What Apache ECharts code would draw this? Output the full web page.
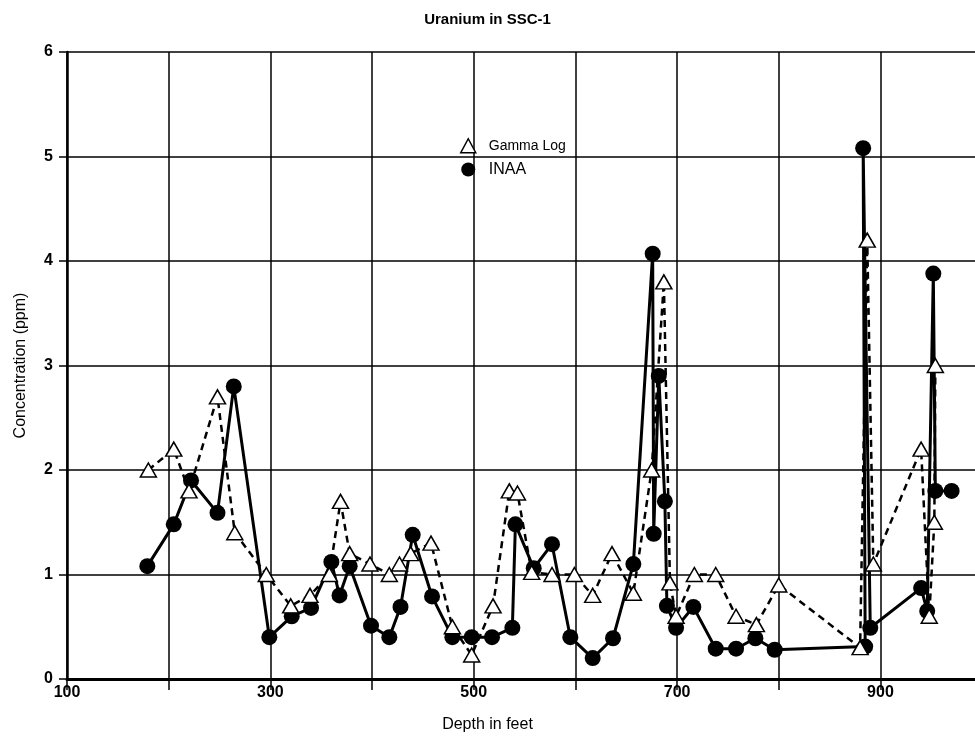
<!DOCTYPE html>
<html>
<head>
<meta charset="utf-8">
<script src="https://cdn.jsdelivr.net/npm/echarts@6/dist/echarts.min.js"></script>
<style>html,body{margin:0;padding:0;background:#fff}#c{width:975px;height:742px}</style>
</head>
<body>
<div id="c"></div>
<script>
// Gamma Log (open triangles, dashed line)
const gammaDepth = [180,205,220,248,265,296,320,339,358,369,378,398,417,427,438,458,479,498,519,535,543,557,577,599,617,636,657,675,687,693,699,717,738,758,778,800,880,887,893,940,948,953,954];
const gammaU     = [2.0,2.2,1.8,2.7,1.4,1.0,0.7,0.8,1.0,1.7,1.2,1.1,1.0,1.1,1.2,1.3,0.5,0.23,0.7,1.8,1.78,1.02,1.0,1.0,0.8,1.2,0.82,2.0,3.8,0.92,0.6,1.0,1.0,0.6,0.52,0.9,0.3,4.2,1.1,2.2,0.6,1.5,3.0];
// INAA (filled circles, solid line)
const inaaDepth = [179,205,222,248,264,299,321,340,360,368,378,399,417,428,440,459,479,498,518,538,541,559,577,595,617,637,657,676,677,682,688,690,699,716,738,758,777,796,885,883,890,940,946,952,954,970];
const inaaU     = [1.08,1.48,1.90,1.59,2.80,0.40,0.60,0.68,1.12,0.80,1.08,0.51,0.40,0.69,1.38,0.79,0.40,0.40,0.40,0.49,1.48,1.06,1.29,0.40,0.20,0.39,1.10,4.07,1.39,2.90,1.70,0.70,0.49,0.69,0.29,0.29,0.39,0.28,0.31,5.08,0.49,0.87,0.65,3.88,1.80,1.80];
// Axis ticks
const xTicks = [100,300,500,700,900];
const yTicks = [0,1,2,3,4,5,6];

const gammaData = gammaDepth.map((d,i)=>[d,gammaU[i]]);
const inaaData = inaaDepth.map((d,i)=>[d,inaaU[i]]);
const font = "'Liberation Sans', Arial, Helvetica, sans-serif";

const chart = echarts.init(document.getElementById('c'), null, {renderer:'canvas'});
chart.setOption({
  backgroundColor:'#fff',
  animation:false,
  title:[
    {text:'Uranium in SSC-1', left:'center', top:7, textStyle:{fontFamily:font, fontSize:15, fontWeight:'bold', color:'#000'}},
    {text:'Depth in feet', left:'center', top:712, textStyle:{fontFamily:font, fontSize:16, fontWeight:'normal', color:'#000'}}
  ],
  legend:{
    orient:'vertical', left:455, top:133, itemWidth:15, itemHeight:14, itemGap:8,
    textStyle:{fontFamily:font, fontSize:14, color:'#000', padding:[0,0,0,8]},
    data:[
      {name:'Gamma Log', icon:'triangle', itemStyle:{color:'#fff', borderColor:'#000', borderWidth:1.5}},
      {name:'INAA', icon:'circle', itemStyle:{color:'#000'}, textStyle:{fontSize:16, padding:[0,0,0,8]}}
    ]
  },
  grid:{left:67, right:0, top:52, bottom:63, containLabel:false},
  xAxis:[{
    type:'value', min:100, max:993, interval:100,
    axisLine:{show:true, onZero:false, lineStyle:{color:'#000', width:2}},
    axisTick:{show:true, length:11, lineStyle:{color:'#000', width:1.5}},
    axisLabel:{fontFamily:font, fontSize:16, fontWeight:'bold', color:'#000', margin:6, showMaxLabel:false,
      formatter:v=> xTicks.indexOf(v)>=0 ? String(v) : ''},
    splitLine:{show:true, showMaxLine:false, lineStyle:{color:'#000', width:1.5}}
  },{
    type:'value', position:'top', min:100, max:993, interval:100,
    axisLine:{show:true, lineStyle:{color:'#000', width:3}},
    axisTick:{show:false}, axisLabel:{show:false}, splitLine:{show:false}
  }],
  yAxis:{
    type:'value', min:0, max:6, interval:1,
    name:'Concentration (ppm)', nameLocation:'middle', nameGap:38,
    nameTextStyle:{fontFamily:font, fontSize:16, color:'#000'},
    axisLine:{show:true, lineStyle:{color:'#000', width:2.5}},
    axisTick:{show:true, length:8, lineStyle:{color:'#000', width:1.5}},
    axisLabel:{fontFamily:font, fontSize:16, fontWeight:'bold', color:'#000', margin:14,
      formatter:v=> yTicks.indexOf(v)>=0 ? String(v) : ''},
    splitLine:{show:true, lineStyle:{color:'#000', width:1.5}}
  },
  series:[
    {name:'INAA', type:'line', data:inaaData, z:3,
      symbol:'circle', symbolSize:16, showAllSymbol:true,
      lineStyle:{color:'#000', width:3},
      itemStyle:{color:'#000', borderColor:'#000', borderWidth:0}},
    {name:'Gamma Log', type:'line', data:gammaData, z:4,
      symbol:'triangle', symbolSize:[16,14], showAllSymbol:true,
      lineStyle:{color:'#000', width:2.5, type:[7,5]},
      itemStyle:{color:'#fff', borderColor:'#000', borderWidth:1.5}}
  ]
});
</script>
</body>
</html>
